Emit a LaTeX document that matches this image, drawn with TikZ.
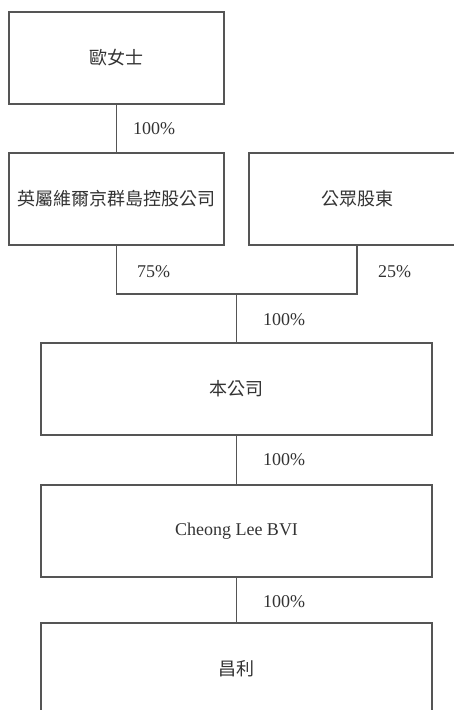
\documentclass[tikz,border=0pt]{standalone}
\usepackage{fontspec}
\setmainfont{Liberation Serif}
\newfontfamily\cjk{Noto Sans CJK TC}
\definecolor{linec}{HTML}{555555}
\definecolor{textc}{HTML}{333333}
\begin{document}
\begin{tikzpicture}[x=1pt,y=-1pt,
  box/.style={draw=linec, line width=1.3pt, rectangle, inner sep=0pt, minimum height=92pt, text=textc, font=\fontsize{18}{20}\selectfont},
  conn/.style={draw=linec, line width=1.3pt},
  pct/.style={anchor=west, inner sep=0pt, text=textc, font=\fontsize{18}{20}\selectfont}]
\useasboundingbox (0,0) rectangle (454,710);
\clip (0,0) rectangle (454,710);
\node[box, minimum width=215pt] (b1) at (116.5,58) {\cjk 歐女士};
\node[box, minimum width=215pt] (b2) at (116.5,199) {\cjk 英屬維爾京群島控股公司};
\node[box, minimum width=216pt] (b3) at (357,199) {\cjk 公眾股東};
\node[box, minimum width=391pt] (b4) at (236.5,389) {\cjk 本公司};
\node[box, minimum width=391pt] (b5) at (236.5,531) {Cheong Lee BVI};
\node[box, minimum width=391pt] (b6) at (236.5,669) {\cjk 昌利};
\coordinate (jl) at (116.5,294);
\coordinate (jr) at (357,294);
\coordinate (jm) at (236.5,294);
\draw[conn] (b1.south) -- (b2.north);
\draw[conn] (b2.south) -- (jl) -- (jr) -- (b3.south);
\draw[conn] (jm) -- (b4.north);
\draw[conn] (b4.south) -- (b5.north);
\draw[conn] (b5.south) -- (b6.north);
\node[pct] (p1) at (133,129) {100\%};
\node[pct] (p2) at (137,272) {75\%};
\node[pct] (p3) at (378,272) {25\%};
\node[pct] (p4) at (263,320) {100\%};
\node[pct] (p5) at (263,460) {100\%};
\node[pct] (p6) at (263,602) {100\%};
\end{tikzpicture}
\end{document}
